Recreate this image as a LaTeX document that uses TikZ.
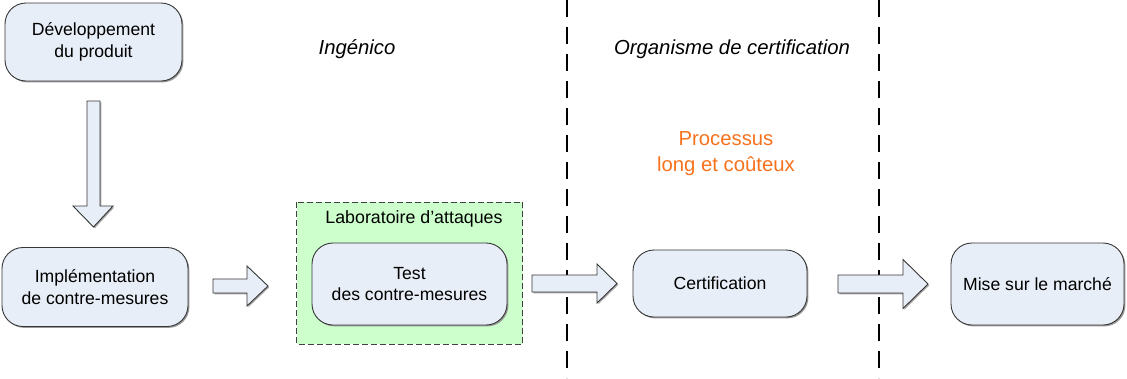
\documentclass[tikz,border=0pt]{standalone}
\usepackage{fontspec}
\setmainfont{Liberation Sans}
\usetikzlibrary{shadows}
\definecolor{boxfill}{RGB}{232,238,247}
\definecolor{boxline}{RGB}{55,55,55}
\definecolor{labfill}{RGB}{204,255,204}
\definecolor{accent}{RGB}{247,114,28}
% horizontal block arrow: shaft start, head start, tip x, centre y, shaft half height, head half height
\newcommand\blockarrowR[6]{%
  \draw[barrow] (#1,#4-#5) -- (#2,#4-#5) -- (#2,#4-#6) -- (#3,#4)
    -- (#2,#4+#6) -- (#2,#4+#5) -- (#1,#4+#5) -- cycle;}
\tikzset{
  box/.style={draw=boxline, line width=0.9pt, fill=boxfill, rounded corners=21pt,
    align=center, font=\fontsize{17.6}{21.5}\selectfont,
    drop shadow={shadow xshift=1.4pt, shadow yshift=-1.4pt, fill=black!40, opacity=1}},
  barrow/.style={draw=boxline, line width=0.9pt, fill=boxfill, line join=miter,
    drop shadow={shadow xshift=1.3pt, shadow yshift=-1.3pt, fill=black!35, opacity=1}},
  lab/.style={draw=black!75, line width=1pt, dash pattern=on 6pt off 3pt, fill=labfill},
  divider/.style={draw=black, line width=2pt, dash pattern=on 16.5pt off 10.5pt},
  header/.style={font=\fontsize{20.3}{24}\selectfont\itshape},
  note/.style={text=accent, align=center, font=\fontsize{20.3}{26}\selectfont}
}
\begin{document}
\begin{tikzpicture}[x=1pt, y=-1pt]
\useasboundingbox (0,0) rectangle (1127,378);

% column dividers
\draw[divider] (567,0) -- (567,378);
\draw[divider] (879,0) -- (879,378);

% column headers
\node[header] (hing) at (357,49) {Ingénico};
\node[header] (hcert) at (732,49) {Organisme de certification};
\node[note] (cost) at (726,154) {Processus\\long et coûteux};

% attack laboratory frame
\draw[lab] (296.5,202) rectangle (522.5,344);
\node[font=\fontsize{17.8}{21}\selectfont] (labname) at (414,219) {Laboratoire d’attaques};

% process steps
\node[box, minimum width=177pt, minimum height=78pt] (dev) at (93.5,42) {Développement\\du produit};
\node[box, minimum width=186pt, minimum height=79pt] (impl) at (95,287) {Implémentation\\de contre-mesures};
\node[box, minimum width=195pt, minimum height=82pt] (test) at (409.5,284) {Test\\des contre-mesures};
\node[box, minimum width=174pt, minimum height=67pt] (cert) at (720,283.5) {Certification};
\node[box, minimum width=173pt, minimum height=82pt] (market) at (1037.5,284) {Mise sur le marché};

% block arrows between the steps
\draw[barrow] (87,101) -- (100,101) -- (100,206) -- (113,206) -- (93.5,227)
  -- (73,206) -- (87,206) -- cycle;
\blockarrowR{213}{247}{268}{286}{7}{20}
\blockarrowR{532}{597}{617}{283.5}{8.5}{19.5}
\blockarrowR{838}{903}{928}{284}{9}{24.5}
\end{tikzpicture}
\end{document}
